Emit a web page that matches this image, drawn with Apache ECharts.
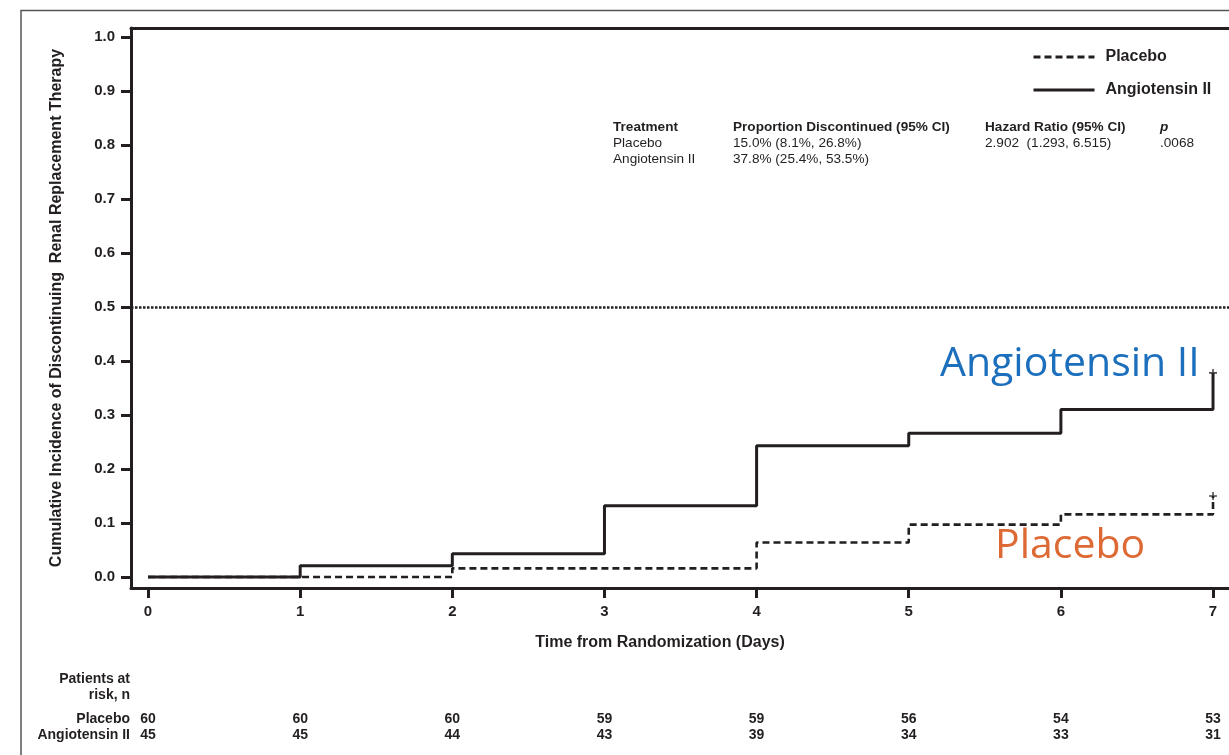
<!DOCTYPE html>
<html>
<head>
<meta charset="utf-8">
<script src="https://cdn.jsdelivr.net/npm/echarts@6/dist/echarts.min.js"></script>
<style>
  html, body { margin: 0; padding: 0; background: #fff; }
  #chart { width: 1229px; height: 755px; }
</style>
</head>
<body>
<div id="chart"></div>
<script>
// Kaplan-Meier style cumulative incidence, days 0..7
var days = [0, 1, 2, 3, 4, 5, 6, 7];
var placeboIncidence = [0, 0, 0.016, 0.016, 0.064, 0.097, 0.116, 0.150];
var angiotensinIncidence = [0, 0.021, 0.043, 0.132, 0.243, 0.266, 0.310, 0.378];
var placeboAtRisk = [60, 60, 60, 59, 59, 56, 54, 53];
var angiotensinAtRisk = [45, 45, 44, 43, 39, 34, 33, 31];
var yTicks = [0.0, 0.1, 0.2, 0.3, 0.4, 0.5, 0.6, 0.7, 0.8, 0.9, 1.0];
var referenceLevel = 0.5;

var tableHeader = ['Treatment', 'Proportion Discontinued (95% CI)', 'Hazard Ratio (95% CI)', 'p'];
var tableRowPlacebo = ['Placebo', '15.0% (8.1%, 26.8%)', '2.902  (1.293, 6.515)', '.0068'];
var tableRowAngio = ['Angiotensin II', '37.8% (25.4%, 53.5%)', '', ''];

var FONT = '"Liberation Sans", Arial, sans-serif';
var INK = '#231f20';
// the time axis runs a little past day 7; the plot frame continues beyond the page edge
var X_MIN = -0.112, X_MAX = 7.105;

function pairs(xs, ys) {
  return xs.map(function (x, i) { return [x, ys[i]]; });
}
var lastDay = days[days.length - 1];

var chart = echarts.init(document.getElementById('chart'));

var tableCols = [613, 733, 985, 1160];
var tableGraphics = [];
[tableHeader, tableRowPlacebo, tableRowAngio].forEach(function (row, r) {
  row.forEach(function (txt, c) {
    if (!txt) return;
    tableGraphics.push({
      type: 'text', silent: true,
      style: {
        x: tableCols[c], y: 127 + r * 16, verticalAlign: 'middle',
        text: txt, fill: INK,
        font: (r === 0 ? (c === 3 ? 'italic bold ' : 'bold ') : '') + '13.6px ' + FONT
      }
    });
  });
});

function riskAxis(offset, counts) {
  return {
    type: 'value', min: X_MIN, max: X_MAX, position: 'bottom', offset: offset,
    axisLine: { show: false }, axisTick: { show: false }, splitLine: { show: false },
    axisLabel: {
      customValues: days, margin: 0,
      fontFamily: FONT, fontWeight: 'bold', fontSize: 14, color: INK,
      formatter: function (v) { return counts[days.indexOf(v)]; }
    }
  };
}

var option = {
  animation: false,
  backgroundColor: '#fff',
  grid: {
    left: 131, top: 28, right: 0, bottom: 167,
    show: false
  },
  legend: {
    data: ['Placebo', 'Angiotensin II'],
    orient: 'vertical',
    left: 1032, top: 49, padding: 0,
    itemWidth: 61, itemHeight: 14, itemGap: 17,
    itemStyle: { opacity: 0 },
    lineStyle: { width: 3 },
    textStyle: { fontFamily: FONT, fontWeight: 'bold', fontSize: 16, color: INK, padding: [0, 0, 0, 6] }
  },
  xAxis: [
    {
      type: 'value', min: X_MIN, max: X_MAX,
      axisLine: { show: true, onZero: false, lineStyle: { color: INK, width: 3 } },
      axisTick: { show: true, length: 10, lineStyle: { color: INK, width: 3 }, customValues: days },
      axisLabel: { customValues: days, margin: 16, fontFamily: FONT, fontWeight: 'bold', fontSize: 15, color: INK },
      splitLine: { show: false }
    },
    riskAxis(124, placeboAtRisk),
    riskAxis(140, angiotensinAtRisk),
    {
      // top edge of the plot frame
      type: 'value', min: X_MIN, max: X_MAX, position: 'top',
      axisLine: { show: true, onZero: false, lineStyle: { color: INK, width: 3 } },
      axisTick: { show: false }, axisLabel: { show: false }, splitLine: { show: false }
    }
  ],
  yAxis: {
    type: 'value', min: -0.0204, max: 1.0167,
    name: 'Cumulative Incidence of Discontinuing  Renal Replacement Therapy',
    nameLocation: 'middle', nameGap: 66, nameRotate: 90,
    nameTextStyle: { fontFamily: FONT, fontWeight: 'bold', fontSize: 16, color: INK },
    axisLine: { show: true, onZero: false, lineStyle: { color: INK, width: 3 } },
    axisTick: { show: true, length: 10, lineStyle: { color: INK, width: 3 }, customValues: yTicks },
    axisLabel: {
      customValues: yTicks, margin: 16,
      fontFamily: FONT, fontWeight: 'bold', fontSize: 15, color: INK,
      formatter: function (v) { return v.toFixed(1); }
    },
    splitLine: { show: false }
  },
  series: [
    {
      name: 'Placebo', type: 'line', step: 'end',
      data: pairs(days, placeboIncidence),
      symbol: 'none', color: INK,
      lineStyle: { color: INK, width: 2.6, type: [7, 4] },
      markLine: {
        silent: true, symbol: 'none', label: { show: false },
        lineStyle: { color: INK, width: 2.6, type: [2.5, 1.5] },
        data: [{ yAxis: referenceLevel }]
      },
      z: 3
    },
    {
      name: 'Angiotensin II', type: 'line', step: 'end',
      data: pairs(days, angiotensinIncidence),
      symbol: 'none', color: INK,
      lineStyle: { color: INK, width: 3, type: 'solid' },
      z: 4
    },
    {
      name: 'censored', type: 'scatter',
      data: [[lastDay, placeboIncidence[placeboIncidence.length - 1]],
             [lastDay, angiotensinIncidence[angiotensinIncidence.length - 1]]],
      symbol: 'path://M4,0h2v10h-2z M0,4h10v2h-10z',
      symbolSize: 8, itemStyle: { color: INK }, z: 5
    }
  ],
  graphic: [
    // outer page frame
    {
      type: 'polyline', silent: true,
      shape: { points: [[21, 760], [21, 10.5], [1240, 10.5]] },
      style: { stroke: '#555', lineWidth: 1.5, fill: null }
    },
    {
      type: 'text', silent: true,
      style: { x: 660, y: 643, align: 'center', verticalAlign: 'middle',
        text: 'Time from Randomization (Days)', font: 'bold 16px ' + FONT, fill: INK }
    },
    {
      type: 'text', silent: true,
      style: { x: 130, y: 679, align: 'right', verticalAlign: 'middle',
        text: 'Patients at', font: 'bold 14px ' + FONT, fill: INK }
    },
    {
      type: 'text', silent: true,
      style: { x: 130, y: 695, align: 'right', verticalAlign: 'middle',
        text: 'risk, n', font: 'bold 14px ' + FONT, fill: INK }
    },
    {
      type: 'text', silent: true,
      style: { x: 130, y: 719, align: 'right', verticalAlign: 'middle',
        text: 'Placebo', font: 'bold 14px ' + FONT, fill: INK }
    },
    {
      type: 'text', silent: true,
      style: { x: 130, y: 735, align: 'right', verticalAlign: 'middle',
        text: 'Angiotensin II', font: 'bold 14px ' + FONT, fill: INK }
    },
    {
      type: 'text', silent: true,
      style: { x: 940, y: 344, verticalAlign: 'top',
        text: 'Angiotensin II', font: '41px "Open Sans", sans-serif', fill: '#1c6fbc' }
    },
    {
      type: 'text', silent: true,
      style: { x: 995, y: 526, verticalAlign: 'top',
        text: 'Placebo', font: '41px "Open Sans", sans-serif', fill: '#dd6a35' }
    }
  ].concat(tableGraphics)
};

chart.setOption(option);
</script>
</body>
</html>
